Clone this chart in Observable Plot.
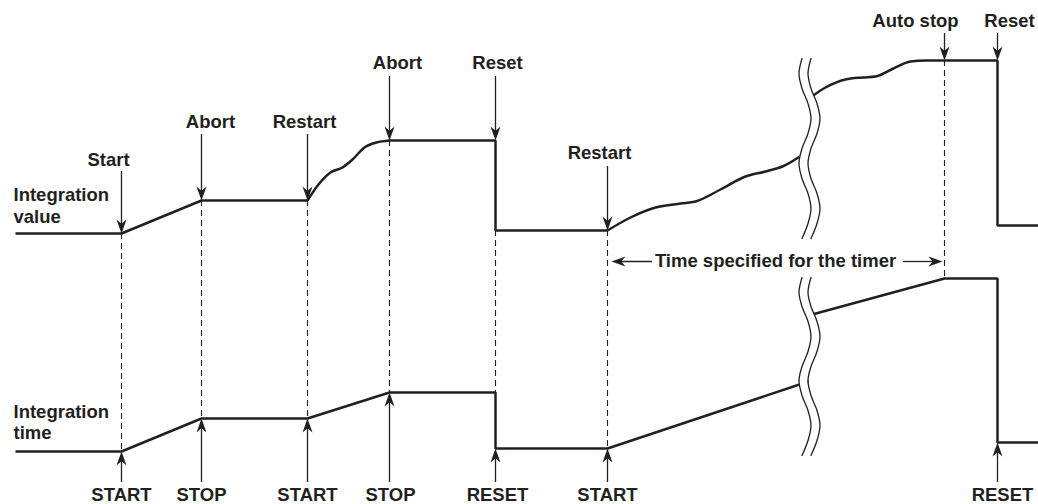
<!DOCTYPE html>
<html><head><meta charset="utf-8">
<script src="https://cdn.jsdelivr.net/npm/d3@7"></script>
<script src="https://cdn.jsdelivr.net/npm/@observablehq/plot@0.6"></script>
<style>body{margin:0;background:#fff}svg{display:block}</style>
</head><body><div id="chart"></div>
<script>
const INK = "#231f20";
const FONT = "Liberation Sans, Arial, Helvetica, sans-serif";

// Integration value trace (time, level)
const valueFlat1 = [[15,233],[121,233],[201,200],[307,200]];
const valueCurve1 = [[307,200],[318,184],[330,172],[342,167],[352,159],[364,147],[376,142],[389,140]];
const valueFlat2 = [[389,140],[495,140],[495,230],[607,230]];
const valueCurve2 = [[607,230],[630,217],[655,207],[680,203],[695,201],[720,189],[745,176],[765,171],[782,166],[808,150]];
const valueCurve3 = [[806,100],[825,87],[845,79],[862,77],[875,76],[893,68],[910,61],[925,60],[944,60]];
const valueFlat3 = [[944,60],[997,60],[997,225],[1038,225]];
// Integration time trace
const timeTrace1 = [[15,451],[121,451],[201,418],[307,418],[389,392],[495,392],[495,448],[607,448],[808,381]];
const timeTrace2 = [[808,315],[944,278],[997,278],[997,442],[1038,442]];

// Events above (integration value)
const topEvents = ["Start","Abort","Restart","Abort","Reset","Restart","Auto stop","Reset"];
const topEventT = [121,201,307,389,495,607,944,997];
const topLabelT = [108,210,304,397,497,599,915,1009];
const topLabelLevel = [160,122,122,63,63,153,21,21];
const topArrowFrom = [171,134,134,76,76,166,33,33];
const topArrowTo = [233,200,200,140,140,230,60,60];

// Events below (integration time)
const bottomEvents = ["START","STOP","START","STOP","RESET","START","RESET"];
const bottomEventT = [121,201,307,389,495,607,997];
const bottomLabelT = [121,201,307,390,497,607,1002];
const bottomArrowTo = [451,418,418,392,448,448,442];
const bottomArrowFrom = 482;
const bottomLabelLevel = 495;

// Dashed guides
const guideT = [121,201,307,389,495,607,944];
const guideTop = [233,200,200,140,230,230,60];
const guideBottom = [451,418,418,392,448,448,278];

// Row labels
const rowLabels = ["Integration","value","Integration","time"];
const rowLabelLevel = [195,217,412,433];

// Timer annotation
const timerText = "Time specified for the timer";
const timerLevel = 261;
const timerTextT = 775;
const timerLeft = [652, 611];
const timerRight = [903, 942];

// Break marks (wavy double line)
const breakOffsets = [-3,-6,-3,3,6,3,-3,-6,-3,3,6,3,-3];
const breakUpperY = [58,73,88,103,118,133,148,163,178,193,208,223,238];
const breakLowerY = [277,292,306,321,336,351,366,380,395,410,425,440,455];
const breakCenterT = 809;

// ---- build tables ----
const toRows = (pts, id) => pts.map(([x, y]) => ({x, y, id}));
const straightRows = [
  ...toRows(valueFlat1, "v1"), ...toRows(valueFlat2, "v2"), ...toRows(valueFlat3, "v3"),
  ...toRows(timeTrace1, "t1"), ...toRows(timeTrace2, "t2")
];
const curveRows = [...toRows(valueCurve1, "c1"), ...toRows(valueCurve2, "c2"), ...toRows(valueCurve3, "c3")];

const breakRows = [];
for (const [id, ys] of [["up", breakUpperY], ["lo", breakLowerY]]) {
  ys.forEach((y, i) => breakRows.push({id, y, c: breakCenterT + breakOffsets[i]}));
}
const halfGap = 4.5;

const topRows = topEvents.map((label, i) => ({label, t: topEventT[i], lt: topLabelT[i], ly: topLabelLevel[i], y1: topArrowFrom[i], y2: topArrowTo[i]}));
const bottomRows = bottomEvents.map((label, i) => ({label, t: bottomEventT[i], lt: bottomLabelT[i], y2: bottomArrowTo[i]}));
const guideRows = guideT.map((t, i) => ({t, y1: guideTop[i], y2: guideBottom[i]}));
const rowLabelRows = rowLabels.map((label, i) => ({label, y: rowLabelLevel[i]}));
const timerRows = [
  {x1: timerLeft[0], x2: timerLeft[1], rot: -90},
  {x1: timerRight[0], x2: timerRight[1], rot: 90}
];

const stealth = {
  draw(ctx) {
    const L = 14, w = 5;
    ctx.moveTo(0, 0);
    ctx.lineTo(-w, L);
    ctx.lineTo(0, L * 0.7);
    ctx.lineTo(w, L);
    ctx.closePath();
  }
};

const textOpts = {fontFamily: FONT, fontWeight: "bold", fontSize: 18.5, fill: INK};

const chart = Plot.plot({
  width: 1038, height: 504,
  margin: 0,
  x: {domain: [0, 1038], range: [0, 1038], axis: null},
  y: {domain: [0, 504], range: [0, 504], axis: null},
  style: {background: "#fff"},
  marks: [
    Plot.ruleX(guideRows, {x: "t", y1: "y1", y2: "y2", stroke: INK, strokeWidth: 1.1, strokeDasharray: "6,4"}),
    Plot.line(straightRows, {x: "x", y: "y", z: "id", stroke: INK, strokeWidth: 2.5, strokeLinejoin: "miter", strokeLinecap: "butt"}),
    Plot.line(curveRows, {x: "x", y: "y", z: "id", curve: "monotone-x", stroke: INK, strokeWidth: 2.5, strokeLinecap: "butt"}),
    Plot.areaX(breakRows, {y: "y", x1: d => d.c - halfGap, x2: d => d.c + halfGap, z: "id", fill: "#fff", curve: "catmull-rom"}),
    Plot.line(breakRows, {x: d => d.c - halfGap, y: "y", z: "id", curve: "catmull-rom", stroke: INK, strokeWidth: 1.3}),
    Plot.line(breakRows, {x: d => d.c + halfGap, y: "y", z: "id", curve: "catmull-rom", stroke: INK, strokeWidth: 1.3}),
    // top arrows
    Plot.ruleX(topRows, {x: "t", y1: "y1", y2: d => d.y2 - 8, stroke: INK, strokeWidth: 1.3}),
    Plot.dot(topRows, {x: "t", y: "y2", symbol: stealth, rotate: 180, r: 5, fill: INK, stroke: "none"}),
    Plot.text(topRows, {x: "lt", y: "ly", text: "label", textAnchor: "middle", lineAnchor: "middle", ...textOpts}),
    // bottom arrows
    Plot.ruleX(bottomRows, {x: "t", y1: bottomArrowFrom, y2: d => d.y2 + 8, stroke: INK, strokeWidth: 1.3}),
    Plot.dot(bottomRows, {x: "t", y: "y2", symbol: stealth, rotate: 0, r: 5, fill: INK, stroke: "none"}),
    Plot.text(bottomRows, {x: "lt", y: bottomLabelLevel, text: "label", textAnchor: "middle", lineAnchor: "middle", ...textOpts}),
    // row labels
    Plot.text(rowLabelRows, {x: 13, y: "y", text: "label", textAnchor: "start", lineAnchor: "middle", ...textOpts}),
    // timer annotation
    Plot.ruleY(timerRows, {y: timerLevel, x1: "x1", x2: d => d.x2 + (d.rot < 0 ? 8 : -8), stroke: INK, strokeWidth: 1.3}),
    Plot.dot(timerRows, {x: "x2", y: timerLevel, symbol: stealth, rotate: d => d.rot, r: 5, fill: INK, stroke: "none"}),
    Plot.text([timerText], {x: timerTextT, y: timerLevel, text: d => d, textAnchor: "middle", lineAnchor: "middle", ...textOpts})
  ]
});
document.getElementById("chart").append(chart);
</script>
</body></html>
